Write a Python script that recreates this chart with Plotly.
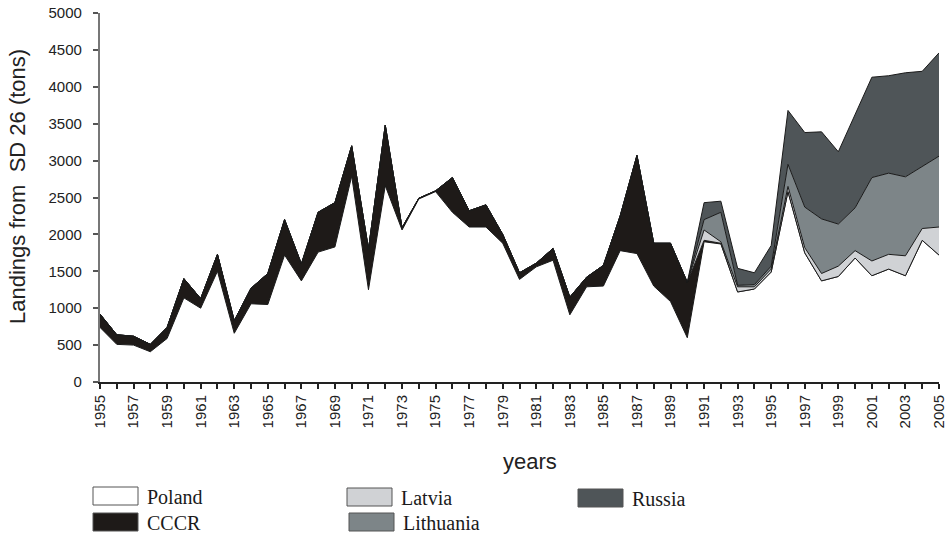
import plotly.graph_objects as go

years = list(range(1955, 2006))

poland = [740, 510, 500, 410, 590, 1140, 1000, 1500, 660, 1060,
          1050, 1720, 1370, 1760, 1830, 2790, 1250, 2660, 2060, 2480,
          2580, 2300, 2100, 2100, 1880, 1390, 1560, 1650, 910, 1290,
          1300, 1780, 1740, 1300, 1090, 600, 1900, 1870, 1220, 1260,
          1490, 2580, 1750, 1370, 1430, 1680, 1440, 1530, 1440, 1920,
          1720]
cccr = [180, 130, 120, 100, 150, 260, 130, 230, 170, 210,
        420, 480, 230, 540, 600, 410, 550, 820, 30, 10,
        10, 470, 220, 300, 120, 90, 50, 160, 240, 130,
        280, 470, 1330, 580, 790, 750, 20, 10, 0, 0,
        0, 0, 0, 0, 0, 0, 0, 0, 0, 0,
        0]
latvia = [0] * 36 + [140, 20, 70, 30, 40, 70, 70, 100, 140, 100, 200, 200, 270, 160, 380]
lithuania = [0] * 36 + [140, 400, 20, 30, 40, 300, 550, 740, 570, 580, 1130, 1100, 1070, 840, 960]
russia = [0] * 36 + [230, 150, 230, 160, 280, 730, 1010, 1180, 980, 1270, 1360, 1320, 1410, 1290, 1400]

series = [
    ("Poland", poland, "#ffffff"),
    ("CCCR", cccr, "#1e1a18"),
    ("Latvia", latvia, "#d0d2d5"),
    ("Lithuania", lithuania, "#7d8588"),
    ("Russia", russia, "#4f5558"),
]

tick_text = ["\u00a0" + str(y) if (y - 1955) % 2 == 0 else "" for y in years]

fig = go.Figure()
for name, vals, col in series:
    fig.add_trace(go.Scatter(
        x=years, y=vals, name=name, mode="lines",
        stackgroup="one", fillcolor=col,
        line=dict(color="#1a1a1a", width=1),
        showlegend=False, hoverinfo="skip",
    ))

# custom legend (boxes + labels) in paper coordinates
W, H = 948, 539
ml, mr, mt, mb = 100, 9, 13, 157
pw, ph = W - ml - mr, H - mt - mb

def px(x):
    return (x - ml) / pw

def py(y):
    return (H - mb - y) / ph

legend_items = [
    ("Poland", "#ffffff", 93, 487),
    ("CCCR", "#1e1a18", 93, 513),
    ("Latvia", "#d0d2d5", 347, 488),
    ("Lithuania", "#7d8588", 349, 513),
    ("Russia", "#4f5558", 578, 489),
]
shapes = []
annotations = []
for name, col, lx, ly in legend_items:
    shapes.append(dict(type="rect", xref="paper", yref="paper",
                       x0=px(lx), x1=px(lx + 45), y0=py(ly + 18), y1=py(ly),
                       fillcolor=col, line=dict(color="#555555", width=1)))
    annotations.append(dict(xref="paper", yref="paper", x=px(lx + 52), y=py(ly + 10),
                            text=name, showarrow=False, xanchor="left", yanchor="middle",
                            font=dict(family="Liberation Serif", size=20, color="#1a1a1a")))

# axis titles
annotations.append(dict(xref="paper", yref="paper", x=px(530), y=py(461),
                        text="years", showarrow=False, xanchor="center", yanchor="middle",
                        font=dict(size=22, color="#222222")))
annotations.append(dict(xref="paper", yref="paper", x=px(17), y=py(187),
                        text="Landings from  SD 26 (tons)", showarrow=False, textangle=-90,
                        xanchor="center", yanchor="middle",
                        font=dict(size=22, color="#222222")))

fig.update_layout(
    width=W, height=H,
    margin=dict(l=ml, r=mr, t=mt, b=mb),
    plot_bgcolor="white", paper_bgcolor="white",
    font=dict(family="Liberation Sans, Arial", color="#222222"),
    shapes=shapes, annotations=annotations,
    xaxis=dict(
        range=[1955, 2005], tickvals=years, ticktext=tick_text,
        tickangle=-90, ticks="outside", ticklen=5, tickwidth=1.5, tickcolor="#222",
        showline=True, linecolor="#222", linewidth=2, showgrid=False, zeroline=False,
        tickfont=dict(size=15), automargin=False,
    ),
    yaxis=dict(
        range=[0, 5000], dtick=500, ticks="outside", ticklen=5, tickwidth=1.5, tickcolor="#555",
        showline=True, linecolor="#777", linewidth=1.5, showgrid=False, zeroline=False,
        tickfont=dict(size=15), automargin=False, ticksuffix="\u00a0\u00a0",
    ),
)

fig.write_html("out.html", config={"displayModeBar": False},
               post_script="document.body.style.margin='0';document.body.style.overflow='hidden';")
